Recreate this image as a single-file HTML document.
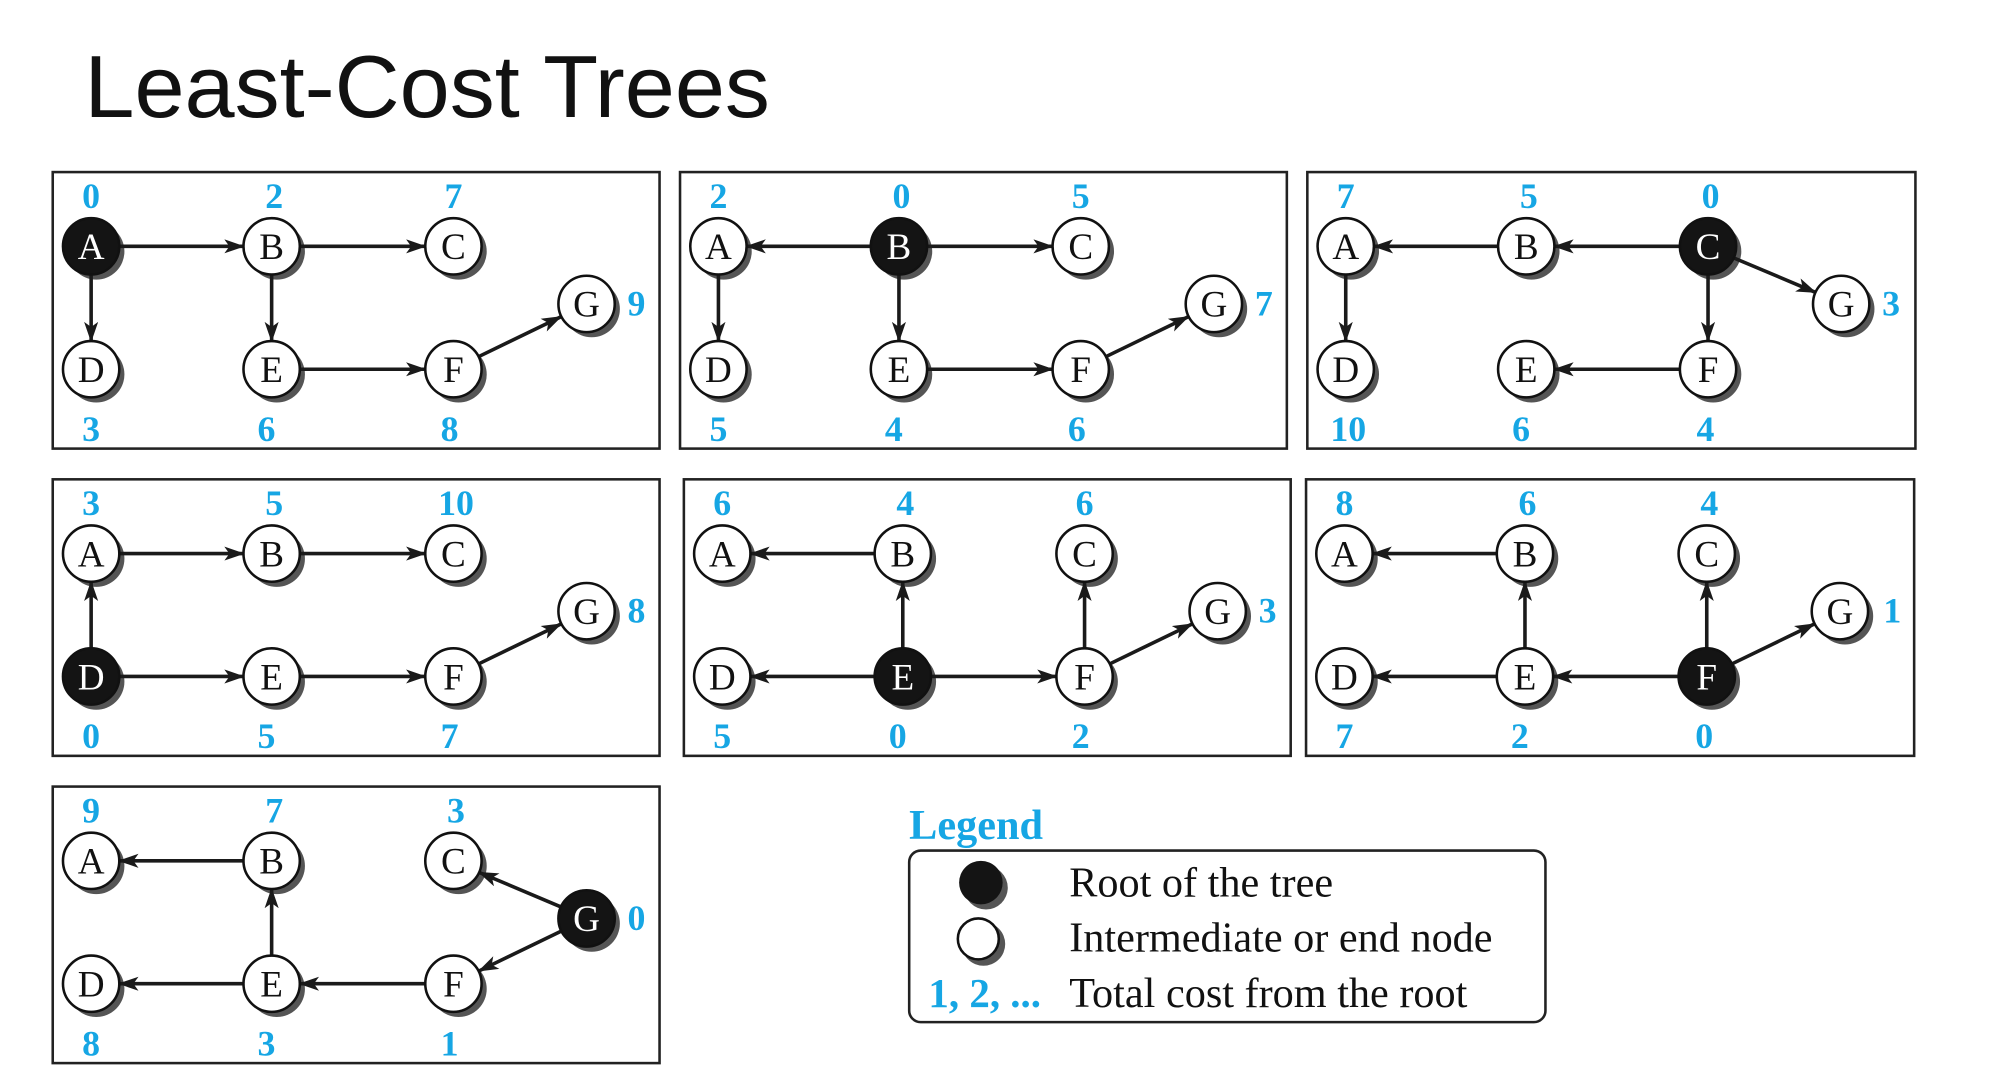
<!DOCTYPE html>
<html><head><meta charset="utf-8"><style>
html,body{margin:0;padding:0;background:#fff;}
svg{display:block;}
.bx{fill:none;stroke:#222;stroke-width:2;}
.sh{fill:#555;}
.n{fill:#fff;stroke:#111;stroke-width:2;}
.r{fill:#141414;stroke:#111;stroke-width:2;}
.lt{font-family:"Liberation Serif",serif;font-size:29px;text-anchor:middle;fill:#111;}
.lw{font-family:"Liberation Serif",serif;font-size:29px;text-anchor:middle;fill:#fff;}
.c{font-family:"Liberation Serif",serif;font-size:28px;font-weight:bold;fill:#16a6e4;text-anchor:middle;}
.cg{font-family:"Liberation Serif",serif;font-size:28px;font-weight:bold;fill:#16a6e4;}
.e{stroke:#1a1a1a;stroke-width:2.8;fill:none;marker-end:url(#ah);}
</style></head><body>
<svg width="2006" height="1092" viewBox="0 0 1545 841" xmlns="http://www.w3.org/2000/svg">
<defs>
<marker id="ah" markerUnits="userSpaceOnUse" markerWidth="16" markerHeight="12" refX="15" refY="5.5" orient="auto">
<path d="M0,0 L16,5.5 L0,11 L4,5.5 z" fill="#1a1a1a"/>
</marker>
<g id="shadows">
<circle class="sh" cx="34" cy="62" r="22"/><circle class="sh" cx="175" cy="62" r="22"/><circle class="sh" cx="317" cy="62" r="22"/>
<circle class="sh" cx="34" cy="158" r="22"/><circle class="sh" cx="175" cy="158" r="22"/><circle class="sh" cx="317" cy="158" r="22"/>
<circle class="sh" cx="421" cy="107" r="22"/>
</g>
</defs>
<text x="65" y="90" font-family="Liberation Sans, sans-serif" font-size="68" fill="#111" textLength="528" lengthAdjust="spacingAndGlyphs">Least-Cost Trees</text>
<g transform="translate(-0.8,-0.6) scale(0.986)">

<!-- Box 1: root A -->
<g transform="translate(42,135)">
<rect class="bx" x="0" y="0" width="474" height="216"/>
<use href="#shadows"/>
<line class="e" x1="52" y1="58" x2="149" y2="58"/>
<line class="e" x1="193" y1="58" x2="291" y2="58"/>
<line class="e" x1="30" y1="80" x2="30" y2="132"/>
<line class="e" x1="171" y1="80" x2="171" y2="132"/>
<line class="e" x1="193" y1="154" x2="291" y2="154"/>
<line class="e" x1="333" y1="144" x2="397" y2="113"/>
<circle class="r" cx="30" cy="58" r="22"/><text class="lw" x="30" y="68">A</text>
<circle class="n" cx="171" cy="58" r="22"/><text class="lt" x="171" y="68">B</text>
<circle class="n" cx="313" cy="58" r="22"/><text class="lt" x="313" y="68">C</text>
<circle class="n" cx="30" cy="154" r="22"/><text class="lt" x="30" y="164">D</text>
<circle class="n" cx="171" cy="154" r="22"/><text class="lt" x="171" y="164">E</text>
<circle class="n" cx="313" cy="154" r="22"/><text class="lt" x="313" y="164">F</text>
<circle class="n" cx="417" cy="103" r="22"/><text class="lt" x="417" y="113">G</text>
<text class="c" x="30" y="28">0</text><text class="c" x="173" y="28">2</text><text class="c" x="313" y="28">7</text>
<text class="c" x="30" y="210">3</text><text class="c" x="167" y="210">6</text><text class="c" x="310" y="210">8</text>
<text class="cg" x="449" y="112">9</text>
</g>

<!-- Box 2: root B -->
<g transform="translate(532,135)">
<rect class="bx" x="0" y="0" width="474" height="216"/>
<use href="#shadows"/>
<line class="e" x1="149" y1="58" x2="52" y2="58"/>
<line class="e" x1="193" y1="58" x2="291" y2="58"/>
<line class="e" x1="30" y1="80" x2="30" y2="132"/>
<line class="e" x1="171" y1="80" x2="171" y2="132"/>
<line class="e" x1="193" y1="154" x2="291" y2="154"/>
<line class="e" x1="333" y1="144" x2="397" y2="113"/>
<circle class="n" cx="30" cy="58" r="22"/><text class="lt" x="30" y="68">A</text>
<circle class="r" cx="171" cy="58" r="22"/><text class="lw" x="171" y="68">B</text>
<circle class="n" cx="313" cy="58" r="22"/><text class="lt" x="313" y="68">C</text>
<circle class="n" cx="30" cy="154" r="22"/><text class="lt" x="30" y="164">D</text>
<circle class="n" cx="171" cy="154" r="22"/><text class="lt" x="171" y="164">E</text>
<circle class="n" cx="313" cy="154" r="22"/><text class="lt" x="313" y="164">F</text>
<circle class="n" cx="417" cy="103" r="22"/><text class="lt" x="417" y="113">G</text>
<text class="c" x="30" y="28">2</text><text class="c" x="173" y="28">0</text><text class="c" x="313" y="28">5</text>
<text class="c" x="30" y="210">5</text><text class="c" x="167" y="210">4</text><text class="c" x="310" y="210">6</text>
<text class="cg" x="449" y="112">7</text>
</g>

<!-- Box 3: root C -->
<g transform="translate(1022,135)">
<rect class="bx" x="0" y="0" width="475" height="216"/>
<use href="#shadows"/>
<line class="e" x1="149" y1="58" x2="52" y2="58"/>
<line class="e" x1="291" y1="58" x2="193" y2="58"/>
<line class="e" x1="30" y1="80" x2="30" y2="132"/>
<line class="e" x1="313" y1="80" x2="313" y2="132"/>
<line class="e" x1="291" y1="154" x2="193" y2="154"/>
<line class="e" x1="333" y1="67" x2="397" y2="94"/>
<circle class="n" cx="30" cy="58" r="22"/><text class="lt" x="30" y="68">A</text>
<circle class="n" cx="171" cy="58" r="22"/><text class="lt" x="171" y="68">B</text>
<circle class="r" cx="313" cy="58" r="22"/><text class="lw" x="313" y="68">C</text>
<circle class="n" cx="30" cy="154" r="22"/><text class="lt" x="30" y="164">D</text>
<circle class="n" cx="171" cy="154" r="22"/><text class="lt" x="171" y="164">E</text>
<circle class="n" cx="313" cy="154" r="22"/><text class="lt" x="313" y="164">F</text>
<circle class="n" cx="417" cy="103" r="22"/><text class="lt" x="417" y="113">G</text>
<text class="c" x="30" y="28">7</text><text class="c" x="173" y="28">5</text><text class="c" x="315" y="28">0</text>
<text class="c" x="32" y="210">10</text><text class="c" x="167" y="210">6</text><text class="c" x="311" y="210">4</text>
<text class="cg" x="449" y="112">3</text>
</g>

<!-- Box 4: root D -->
<g transform="translate(42,375)">
<rect class="bx" x="0" y="0" width="474" height="216"/>
<use href="#shadows"/>
<line class="e" x1="52" y1="58" x2="149" y2="58"/>
<line class="e" x1="193" y1="58" x2="291" y2="58"/>
<line class="e" x1="30" y1="132" x2="30" y2="80"/>
<line class="e" x1="52" y1="154" x2="149" y2="154"/>
<line class="e" x1="193" y1="154" x2="291" y2="154"/>
<line class="e" x1="333" y1="144" x2="397" y2="113"/>
<circle class="n" cx="30" cy="58" r="22"/><text class="lt" x="30" y="68">A</text>
<circle class="n" cx="171" cy="58" r="22"/><text class="lt" x="171" y="68">B</text>
<circle class="n" cx="313" cy="58" r="22"/><text class="lt" x="313" y="68">C</text>
<circle class="r" cx="30" cy="154" r="22"/><text class="lw" x="30" y="164">D</text>
<circle class="n" cx="171" cy="154" r="22"/><text class="lt" x="171" y="164">E</text>
<circle class="n" cx="313" cy="154" r="22"/><text class="lt" x="313" y="164">F</text>
<circle class="n" cx="417" cy="103" r="22"/><text class="lt" x="417" y="113">G</text>
<text class="c" x="30" y="28">3</text><text class="c" x="173" y="28">5</text><text class="c" x="315" y="28">10</text>
<text class="c" x="30" y="210">0</text><text class="c" x="167" y="210">5</text><text class="c" x="310" y="210">7</text>
<text class="cg" x="449" y="112">8</text>
</g>

<!-- Box 5: root E -->
<g transform="translate(535,375)">
<rect class="bx" x="0" y="0" width="474" height="216"/>
<use href="#shadows"/>
<line class="e" x1="149" y1="58" x2="52" y2="58"/>
<line class="e" x1="171" y1="132" x2="171" y2="80"/>
<line class="e" x1="149" y1="154" x2="52" y2="154"/>
<line class="e" x1="193" y1="154" x2="291" y2="154"/>
<line class="e" x1="313" y1="132" x2="313" y2="80"/>
<line class="e" x1="333" y1="144" x2="397" y2="113"/>
<circle class="n" cx="30" cy="58" r="22"/><text class="lt" x="30" y="68">A</text>
<circle class="n" cx="171" cy="58" r="22"/><text class="lt" x="171" y="68">B</text>
<circle class="n" cx="313" cy="58" r="22"/><text class="lt" x="313" y="68">C</text>
<circle class="n" cx="30" cy="154" r="22"/><text class="lt" x="30" y="164">D</text>
<circle class="r" cx="171" cy="154" r="22"/><text class="lw" x="171" y="164">E</text>
<circle class="n" cx="313" cy="154" r="22"/><text class="lt" x="313" y="164">F</text>
<circle class="n" cx="417" cy="103" r="22"/><text class="lt" x="417" y="113">G</text>
<text class="c" x="30" y="28">6</text><text class="c" x="173" y="28">4</text><text class="c" x="313" y="28">6</text>
<text class="c" x="30" y="210">5</text><text class="c" x="167" y="210">0</text><text class="c" x="310" y="210">2</text>
<text class="cg" x="449" y="112">3</text>
</g>

<!-- Box 6: root F -->
<g transform="translate(1021,375)">
<rect class="bx" x="0" y="0" width="475" height="216"/>
<use href="#shadows"/>
<line class="e" x1="149" y1="58" x2="52" y2="58"/>
<line class="e" x1="171" y1="132" x2="171" y2="80"/>
<line class="e" x1="149" y1="154" x2="52" y2="154"/>
<line class="e" x1="291" y1="154" x2="193" y2="154"/>
<line class="e" x1="313" y1="132" x2="313" y2="80"/>
<line class="e" x1="333" y1="144" x2="397" y2="113"/>
<circle class="n" cx="30" cy="58" r="22"/><text class="lt" x="30" y="68">A</text>
<circle class="n" cx="171" cy="58" r="22"/><text class="lt" x="171" y="68">B</text>
<circle class="n" cx="313" cy="58" r="22"/><text class="lt" x="313" y="68">C</text>
<circle class="n" cx="30" cy="154" r="22"/><text class="lt" x="30" y="164">D</text>
<circle class="n" cx="171" cy="154" r="22"/><text class="lt" x="171" y="164">E</text>
<circle class="r" cx="313" cy="154" r="22"/><text class="lw" x="313" y="164">F</text>
<circle class="n" cx="417" cy="103" r="22"/><text class="lt" x="417" y="113">G</text>
<text class="c" x="30" y="28">8</text><text class="c" x="173" y="28">6</text><text class="c" x="315" y="28">4</text>
<text class="c" x="30" y="210">7</text><text class="c" x="167" y="210">2</text><text class="c" x="311" y="210">0</text>
<text class="cg" x="451" y="112">1</text>
</g>

<!-- Box 7: root G -->
<g transform="translate(42,615)">
<rect class="bx" x="0" y="0" width="474" height="216"/>
<use href="#shadows"/>
<line class="e" x1="149" y1="58" x2="52" y2="58"/>
<line class="e" x1="171" y1="132" x2="171" y2="80"/>
<line class="e" x1="149" y1="154" x2="52" y2="154"/>
<line class="e" x1="291" y1="154" x2="193" y2="154"/>
<line class="e" x1="397" y1="94" x2="333" y2="67"/>
<line class="e" x1="397" y1="113" x2="333" y2="144"/>
<circle class="n" cx="30" cy="58" r="22"/><text class="lt" x="30" y="68">A</text>
<circle class="n" cx="171" cy="58" r="22"/><text class="lt" x="171" y="68">B</text>
<circle class="n" cx="313" cy="58" r="22"/><text class="lt" x="313" y="68">C</text>
<circle class="n" cx="30" cy="154" r="22"/><text class="lt" x="30" y="164">D</text>
<circle class="n" cx="171" cy="154" r="22"/><text class="lt" x="171" y="164">E</text>
<circle class="n" cx="313" cy="154" r="22"/><text class="lt" x="313" y="164">F</text>
<circle class="r" cx="417" cy="103" r="22"/><text class="lw" x="417" y="113">G</text>
<text class="c" x="30" y="28">9</text><text class="c" x="173" y="28">7</text><text class="c" x="315" y="28">3</text>
<text class="c" x="30" y="210">8</text><text class="c" x="167" y="210">3</text><text class="c" x="310" y="210">1</text>
<text class="cg" x="449" y="112">0</text>
</g>

<!-- Legend -->
<text x="711" y="656" font-family="Liberation Serif, serif" font-size="33" font-weight="bold" fill="#16a6e4">Legend</text>
<rect x="711" y="665" width="497" height="134" rx="9" fill="none" stroke="#222" stroke-width="2"/>
<circle cx="771" cy="694" r="17" fill="#555"/>
<circle cx="767" cy="690" r="17" fill="#141414"/>
<circle cx="769" cy="738" r="17" fill="#555"/>
<circle cx="765" cy="734" r="16" fill="#fff" stroke="#111" stroke-width="2"/>
<text x="726" y="787" font-family="Liberation Serif, serif" font-size="32" font-weight="bold" fill="#16a6e4">1, 2, ...</text>
<text x="836" y="701" font-family="Liberation Serif, serif" font-size="33" fill="#111">Root of the tree</text>
<text x="836" y="744" font-family="Liberation Serif, serif" font-size="33" fill="#111">Intermediate or end node</text>
<text x="836" y="787" font-family="Liberation Serif, serif" font-size="33" fill="#111">Total cost from the root</text>
</g>
</svg>
</body></html>
